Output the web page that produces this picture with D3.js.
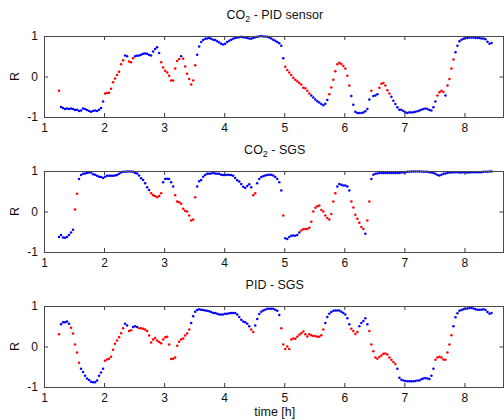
<!DOCTYPE html>
<html><head><meta charset="utf-8">
<script src="https://cdn.jsdelivr.net/npm/d3@7"></script>
<style>
html,body{margin:0;padding:0;background:#fff;}
svg{display:block;}
text{font-family:"Liberation Sans",Arial,Helvetica,sans-serif;}
</style></head>
<body><svg id="chart" width="504" height="420"></svg>
<script>
// sample times: start at 1.25 h, one sample every 2 minutes
const tStart = 1.25;
const tStep = 1 / 30;
const xTicks = [1, 2, 3, 4, 5, 6, 7, 8];
const yTicks = [-1, 0, 1];
const xDomain = [1, 8.65];
const yDomain = [-1, 1];
const titles = [["CO", "2", " - PID sensor"], ["CO", "2", " - SGS"], ["PID - SGS", "", ""]];
const yLabel = "R";
const xLabel = "time [h]";

// CO2 - PID sensor
const r1 = [
-0.35,-0.75,-0.78, -0.80,-0.79,-0.80, -0.79,-0.80,-0.83, -0.82,-0.85,-0.84,
-0.79,-0.80,-0.83, -0.85,-0.87,-0.85, -0.84,-0.85,-0.82, -0.78,-0.62,-0.42,
-0.41,-0.40,-0.30, -0.14,-0.05,0.04, 0.12,0.30,0.40, 0.52,0.50,0.37,
0.35,0.45,0.50, 0.51,0.52,0.54, 0.56,0.57,0.56, 0.53,0.52,0.62,
0.68,0.72,0.58, 0.35,0.22,0.14, 0.10,0.02,-0.10, -0.10,0.20,0.38,
0.43,0.50,0.44, 0.25,0.07,-0.06, -0.20,-0.10,0.28, 0.54,0.74,0.85,
0.90,0.93,0.94, 0.95,0.93,0.91, 0.90,0.87,0.84, 0.81,0.79,0.81,
0.85,0.88,0.91, 0.93,0.95,0.96, 0.97,0.98,0.97, 0.96,0.95,0.94,
0.93,0.95,0.97, 0.98,0.99,1.00, 0.99,0.99,0.98, 0.96,0.94,0.91,
0.88,0.85,0.82, 0.76,0.45,0.24, 0.16,0.10,0.04, -0.03,-0.08,-0.12,
-0.16,-0.20,-0.28, -0.29,-0.35,-0.42, -0.47,-0.52,-0.57, -0.61,-0.64,-0.68,
-0.71,-0.67,-0.58, -0.44,-0.27,-0.08, 0.13,0.30,0.34, 0.31,0.26,0.20,
0.02,-0.22,-0.48, -0.70,-0.87,-0.90, -0.90,-0.90,-0.89, -0.86,-0.80,-0.57,
-0.35,-0.48,-0.47, -0.44,-0.28,-0.18, -0.16,-0.22,-0.34, -0.42,-0.50,-0.60,
-0.68,-0.76,-0.82, -0.82,-0.85,-0.88, -0.90,-0.88,-0.89, -0.88,-0.87,-0.86,
-0.84,-0.82,-0.80, -0.79,-0.80,-0.83, -0.84,-0.76,-0.62, -0.47,-0.39,-0.35,
-0.38,-0.47,-0.22, -0.06,0.20,0.42, 0.60,0.76,0.87, 0.91,0.93,0.95,
0.95,0.96,0.96, 0.96,0.95,0.95, 0.95,0.94,0.94, 0.92,0.86,0.81,
0.83];
const c1 = "rbb bbb bbb bbb bbb bbb bbb bbr rrr rrr rrr bbr rrb bbb bbb bbb bbb rrr rrr rrr rbr rrr rrr bbb " +
"bbb bbb bbb bbb bbb bbb bbb bbb bbb bbb bbb bbb bbb " +
"bbr rrr rrr rrr rrr bbb bbb bbb rrr rrr rrr rrb bbb bbb bbb rbb brr rrr rbb " +
"bbb bbb bbb bbb bbb bbb bbb rrr rbr rrr bbb bbb bbb bbb bbb bbb b";

// CO2 - SGS
const r2 = [
-0.63,-0.58,-0.64, -0.65,-0.63,-0.58, -0.52,-0.45,0.05, 0.44,0.80,0.90,
0.93,0.94,0.95, 0.96,0.96,0.92, 0.91,0.88,0.86, 0.85,0.83,0.86,
0.88,0.88,0.88, 0.88,0.89,0.90, 0.93,0.96,0.98, 0.98,0.99,0.99,
0.99,0.98,0.95, 0.94,0.89,0.82, 0.78,0.70,0.60, 0.53,0.45,0.40,
0.38,0.35,0.38, 0.45,0.72,0.80, 0.81,0.80,0.72, 0.62,0.40,0.25,
0.23,0.19,0.07, 0.02,0.00,-0.10, -0.22,-0.20,0.35, 0.62,0.75,0.78,
0.86,0.90,0.93, 0.93,0.94,0.95, 0.94,0.93,0.93, 0.91,0.90,0.90,
0.91,0.90,0.90, 0.88,0.83,0.77, 0.74,0.68,0.61, 0.58,0.63,0.67,
0.60,0.40,0.45, 0.70,0.80,0.85, 0.87,0.89,0.90, 0.91,0.91,0.89,
0.85,0.80,0.72, 0.52,-0.10,-0.66, -0.68,-0.63,-0.60, -0.59,-0.60,-0.58,
-0.52,-0.47,-0.44, -0.43,-0.43,-0.40, -0.25,0.00,0.09, 0.13,0.15,0.04,
0.00,-0.10,-0.16, -0.20,-0.06,0.25, 0.45,0.62,0.68, 0.66,0.64,0.64,
0.62,0.52,0.25, 0.10,-0.08,-0.18, -0.28,-0.38,-0.43, -0.55,-0.22,0.25,
0.80,0.91,0.93, 0.94,0.95,0.95, 0.95,0.95,0.95, 0.95,0.95,0.95,
0.95,0.95,0.95, 0.96,0.96,0.97, 0.98,0.98,0.99, 0.99,0.99,0.99,
0.99,0.99,0.98, 0.98,0.98,0.97, 0.96,0.95,0.93, 0.90,0.89,0.91,
0.93,0.94,0.95, 0.96,0.96,0.97, 0.97,0.97,0.96, 0.96,0.97,0.96,
0.96,0.96,0.97, 0.97,0.97,0.97, 0.97,0.97,0.98, 0.98,0.98,0.99,
0.99];
const c2 = "bbb bbb bbr rbb bbb bbb bbb bbb bbb bbb bbb bbb bbb bbb bbb brr rrr rbb bbb brr rrr rrr rrr " +
"bbb bbb bbb bbb bbb bbb bbb bbb bbb brr bbb bbb bbb bbb brb bbb bbb brr rrr rrr rrr rrr rrr rbb bbb bbr rrr rrr brr " +
"bbb bbb bbb bbb bbb bbb bbb bbb bbb bbb bbb bbb bbb bbb bbb bbb bbb bbb bbb bbb b";

// PID - SGS
const r3 = [
0.30,0.55,0.60, 0.60,0.62,0.56, 0.46,0.32,0.05, -0.15,-0.40,-0.55,
-0.63,-0.72,-0.79, -0.83,-0.87,-0.88, -0.88,-0.84,-0.72, -0.64,-0.55,-0.35,
-0.32,-0.30,-0.25, -0.08,0.07,0.15, 0.23,0.33,0.45, 0.56,0.52,0.38,
0.40,0.48,0.50, 0.48,0.45,0.45, 0.44,0.42,0.38, 0.27,0.10,0.17,
0.21,0.15,0.11, 0.08,0.17,0.23, 0.24,0.05,-0.31, -0.30,-0.27,0.02,
0.12,0.17,0.20, 0.27,0.32,0.42, 0.58,0.75,0.86, 0.90,0.92,0.91,
0.90,0.89,0.88, 0.87,0.85,0.83, 0.83,0.81,0.79, 0.79,0.79,0.81,
0.81,0.82,0.83, 0.83,0.83,0.79, 0.73,0.66,0.62, 0.60,0.56,0.50,
0.42,0.36,0.52, 0.68,0.80,0.86, 0.89,0.91,0.93, 0.93,0.93,0.93,
0.91,0.88,0.78, 0.45,0.05,-0.06, 0.00,-0.06,0.17, 0.20,0.19,0.24,
0.29,0.33,0.37, 0.30,0.25,0.30, 0.28,0.26,0.26, 0.24,0.24,0.28,
0.42,0.58,0.73, 0.81,0.85,0.88, 0.89,0.89,0.89, 0.86,0.83,0.79,
0.70,0.55,0.44, 0.38,0.31,0.36, 0.50,0.58,0.63, 0.70,0.55,0.38,
0.05,-0.12,-0.27, -0.30,-0.26,-0.22, -0.18,-0.17,-0.20, -0.27,-0.33,-0.38,
-0.43,-0.55,-0.77, -0.82,-0.84,-0.85, -0.86,-0.86,-0.86, -0.86,-0.85,-0.84,
-0.84,-0.81,-0.79, -0.78,-0.79,-0.80, -0.72,-0.55,-0.33, -0.27,-0.25,-0.27,
-0.32,-0.33,-0.15, 0.05,0.28,0.50, 0.72,0.82,0.88, 0.90,0.92,0.93,
0.94,0.95,0.95, 0.94,0.92,0.91, 0.91,0.91,0.92, 0.90,0.85,0.81,
0.83];
const c3 = "rbb bbb rrr rrb bbb bbb bbb bbr rrr rrr rrr bbr rbb brr rrr rrr rrr rrr rrr rrr rrr rrr " +
"bbb bbb bbb bbb bbb bbb bbb bbb bbb bbb rrb bbb bbb bbb bbb rrr rrr rrr rrr rrr rrr rrr " +
"rbb bbb bbb bbb bbr rrr bbb bbr rrr rrr rrr rrr rbb bbb bbb bbb bbb bbb bbr rrr rrr rrb " +
"bbb bbb bbb bbb bbb bbb b";

const seriesR = [r1, r2, r3];
const seriesC = [c1, c2, c3];

// ---------- drawing ----------
const svg = d3.select("#chart");
const panels = [{top: 36, bottom: 117}, {top: 171, bottom: 252}, {top: 306, bottom: 387}];
const left = 44, right = 503.5;
const colorMap = {b: "#0000ff", r: "#ff0000"};
const font = 12;
const titleFont = 12.5;

const x = d3.scaleLinear().domain(xDomain).range([left, right]);
const fmt = d => String(d);

panels.forEach((p, pi) => {
  const y = d3.scaleLinear().domain(yDomain).range([p.bottom, p.top]);
  const g = svg.append("g");
  const vals = seriesR[pi];
  const cols = seriesC[pi].replace(/\s+/g, "");
  if (cols.length !== vals.length) console.error("length mismatch", pi, vals.length, cols.length);
  const data = vals.map((v, i) => ({t: tStart + i * tStep, r: v, c: cols[i] || "b"}));

  // dots
  g.append("g").selectAll("circle").data(data).join("circle")
    .attr("cx", d => x(d.t)).attr("cy", d => y(d.r)).attr("r", 1.25)
    .attr("fill", d => colorMap[d.c]);

  const axisColor = "#3a3a3a";
  const styleAxis = (sel, labels) => {
    sel.select(".domain").remove();
    sel.selectAll(".tick line").attr("stroke", axisColor).attr("stroke-width", 1);
    sel.selectAll(".tick text").attr("fill", labels ? "#111" : "none")
      .style("font-size", font + "px").style("font-family", '"Liberation Sans",Arial,sans-serif');
  };
  // bottom
  g.append("g").attr("transform", `translate(0,${p.bottom})`)
    .call(d3.axisBottom(x).tickValues(xTicks).tickFormat(fmt).tickSizeInner(-4).tickSizeOuter(0).tickPadding(6))
    .call(s => styleAxis(s, true));
  // top
  g.append("g").attr("transform", `translate(0,${p.top})`)
    .call(d3.axisTop(x).tickValues(xTicks).tickFormat("").tickSizeInner(-4).tickSizeOuter(0))
    .call(s => styleAxis(s, false));
  // left
  g.append("g").attr("transform", `translate(${left},0)`)
    .call(d3.axisLeft(y).tickValues(yTicks).tickFormat(fmt).tickSizeInner(-4).tickSizeOuter(0).tickPadding(6))
    .call(s => styleAxis(s, true));
  // right
  g.append("g").attr("transform", `translate(${right},0)`)
    .call(d3.axisRight(y).tickValues(yTicks).tickFormat("").tickSizeInner(-4).tickSizeOuter(0))
    .call(s => styleAxis(s, false));

  // box
  g.append("rect").attr("x", left + 0.5).attr("y", p.top + 0.5)
    .attr("width", right - left - 0.5).attr("height", p.bottom - p.top)
    .attr("fill", "none").attr("stroke", "#4a4a4a").attr("stroke-width", 1);

  // title
  const tt = titles[pi];
  const title = g.append("text").attr("x", (left + right) / 2 + 1).attr("y", p.top - 17)
    .attr("text-anchor", "middle").style("font-size", titleFont + "px").attr("fill", "#111");
  title.append("tspan").text(tt[0]);
  if (tt[1]) {
    title.append("tspan").attr("dy", 3).style("font-size", "9px").text(tt[1]);
    title.append("tspan").attr("dy", -3).text(tt[2]);
  }

  // y label
  g.append("text").attr("transform", `translate(19,${(p.top + p.bottom) / 2}) rotate(-90)`)
    .attr("text-anchor", "middle").style("font-size", titleFont + "px").attr("fill", "#111").text(yLabel);
});

svg.append("text").attr("x", (left + right) / 2 + 1).attr("y", 416)
  .attr("text-anchor", "middle").style("font-size", titleFont + "px").attr("fill", "#111").text(xLabel);
</script></body></html>
